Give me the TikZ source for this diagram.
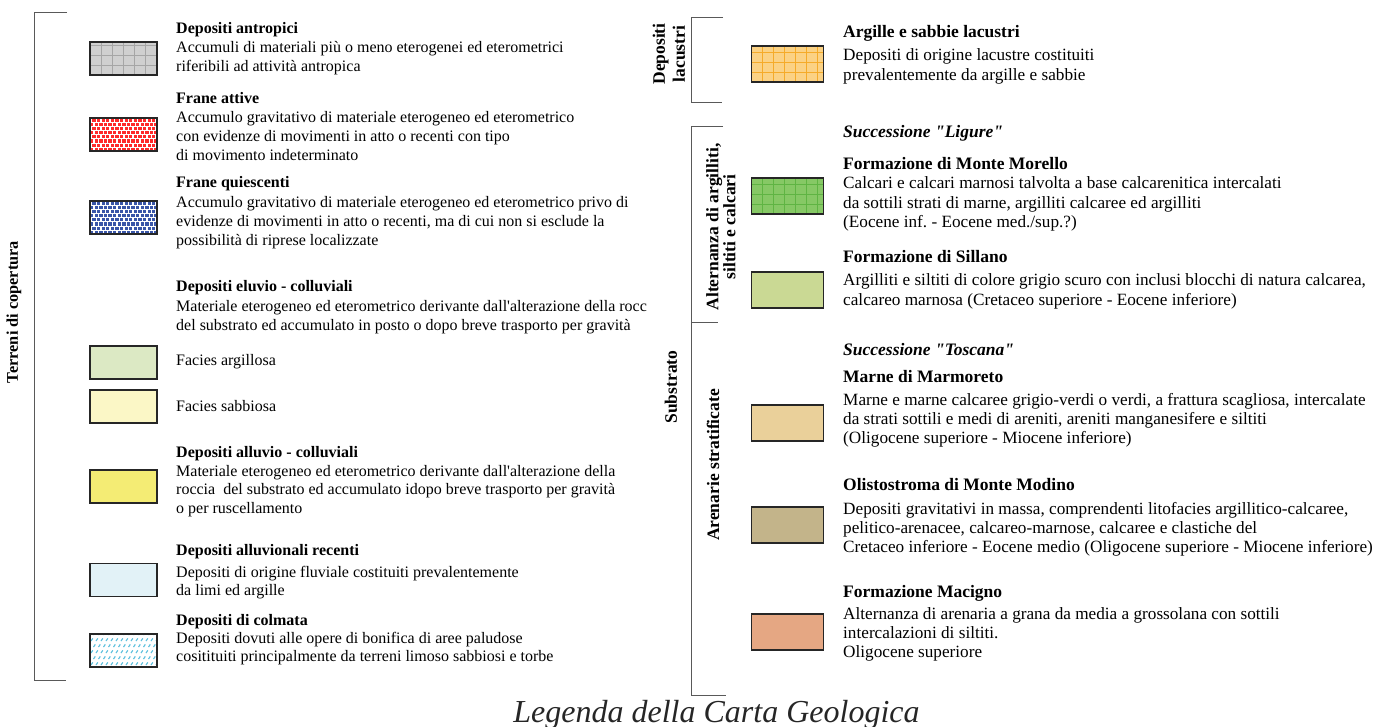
\documentclass[tikz,border=0pt]{standalone}
\usepackage{fontspec}
\setmainfont{Liberation Serif}
\usepackage{tikz}
\usetikzlibrary{calc}

\definecolor{antro}{HTML}{D0D0D0}
\definecolor{antrogrid}{HTML}{A6A6A6}
\definecolor{franered}{HTML}{FF2A2A}
\definecolor{franeblue}{HTML}{3A56A8}
\definecolor{argillosa}{HTML}{DCE9C4}
\definecolor{sabbiosa}{HTML}{FBF7C6}
\definecolor{alluvio}{HTML}{F4EC74}
\definecolor{recenti}{HTML}{E2F2F7}
\definecolor{colmata}{HTML}{5BC0DE}
\definecolor{lacustri}{HTML}{FBD285}
\definecolor{lacustrigrid}{HTML}{F5AB2A}
\definecolor{morello}{HTML}{86C865}
\definecolor{morellogrid}{HTML}{5FB443}
\definecolor{sillano}{HTML}{CAD994}
\definecolor{marmoreto}{HTML}{EAD09A}
\definecolor{modino}{HTML}{C3B48A}
\definecolor{macigno}{HTML}{E5A783}

\begin{document}
\begin{tikzpicture}[x=1pt,y=-1pt,
	swatch/.style={draw=black!85,line width=1.1pt,minimum width=67pt,minimum height=33pt,inner sep=0pt},
	bigswatch/.style={swatch,minimum width=72pt,minimum height=36pt},
	title/.style={anchor=base west,inner sep=0pt,font=\fontsize{16}{19}\selectfont\bfseries},
	descr/.style={anchor=base west,inner sep=0pt,text width=560pt,align=flush left,font=\fontsize{16}{18.8}\selectfont\frenchspacing},
	rtitle/.style={title,font=\fontsize{17.5}{19}\selectfont\bfseries},
	rdescr/.style={descr,font=\fontsize{17.2}{19.3}\selectfont\frenchspacing},
	group/.style={rotate=90,inner sep=0pt,align=center,font=\fontsize{17.5}{20}\selectfont\bfseries},
	bracket/.style={draw=black!65,line width=1pt},
	gridded/.style={path picture={
		\foreach \k in {1,...,6}\draw[#1,line width=0.9pt]([xshift=\k*11pt]path picture bounding box.south west)--([xshift=\k*11pt]path picture bounding box.north west);
		\foreach \k in {1,...,3}\draw[#1,line width=0.9pt]([yshift=\k*10pt]path picture bounding box.south west)--([yshift=\k*10pt]path picture bounding box.south east);}},
	speckled/.style={path picture={
		\foreach \i in {0,...,15}\foreach \j in {0,...,8}
			\fill[#1]([xshift={\i*4.6pt+mod(\j,2)*2.3pt},yshift=\j*4.2pt]path picture bounding box.south west)rectangle++(3.3pt,3.1pt);}},
	dashy/.style={path picture={
		\foreach \i in {0,...,13}\foreach \j in {0,...,5}
			\draw[#1,line width=1.1pt]([xshift={\i*5pt+mod(\j,2)*2.5pt+1pt},yshift=\j*6pt+2pt]path picture bounding box.south west)--++(1.8pt,2.6pt);}}]
			\useasboundingbox(0,0)rectangle(1376,727);
			\draw[bracket](67,13)--(34,13)--(34,680)--(66,680);
			\draw[bracket](723,18)--(691,18)--(691,103)--(722,103);
			\draw[bracket](723,127)--(691,127)--(691,695)--(726,695);
			\draw[bracket](691,323)--(718,323);
			\node[group,font=\fontsize{16.3}{19}\selectfont\bfseries](copertura)at(14,312){Terreni di copertura};
			\node[group](lacu)at(669,54){Depositi\\lacustri};
			\node[group](substrato)at(671,387){Substrato};
			\node[group,font=\fontsize{17.5}{17}\selectfont\bfseries](alternanza)at(721,227){Alternanza di argilliti,\\siltiti e calcari};
			\node[group](arenarie)at(713,465){Arenarie stratificate};
			\node[swatch,fill=antro,gridded=antrogrid](antropici)at(123.5,58.5){};
			\node[swatch,fill=white,speckled=franered](attive)at(123.5,134.5){};
			\node[swatch,fill=white,speckled=franeblue](quiescenti)at(123.5,217.5){};
			\node[swatch,fill=argillosa](argillosa)at(123.5,362.5){};
			\node[swatch,fill=sabbiosa](sabbiosa)at(123.5,406.5){};
			\node[swatch,fill=alluvio](alluvio)at(123.5,486.5){};
			\node[swatch,fill=recenti](recenti)at(123.5,580){};
			\node[swatch,fill=white,dashy=colmata](colmata)at(123.5,650.5){};
			\node[bigswatch,fill=lacustri,gridded=lacustrigrid](argille)at(787.5,64){};
			\node[bigswatch,fill=morello,gridded=morellogrid](morello)at(787.5,196){};
			\node[bigswatch,fill=sillano](sillano)at(787.5,290){};
			\node[bigswatch,fill=marmoreto](marmoreto)at(787.5,423){};
			\node[bigswatch,fill=modino](modino)at(787.5,525){};
			\node[bigswatch,fill=macigno](macigno)at(787.5,632){};
			\node[title](antropiciT)at(176,34){Depositi antropici};
			\node[descr](antropiciD)at(176,53){Accumuli di materiali più o meno eterogenei ed eterometrici\\riferibili ad attività antropica};
			\node[title](attiveT)at(176,104){Frane attive};
			\node[descr](attiveD)at(176,123){Accumulo gravitativo di materiale eterogeneo ed eterometrico\\con evidenze di movimenti in atto o recenti con tipo\\di movimento indeterminato};
			\node[title](quiescentiT)at(176,188){Frane quiescenti};
			\node[descr](quiescentiD)at(176,208){Accumulo gravitativo di materiale eterogeneo ed eterometrico privo di\\evidenze di movimenti in atto o recenti, ma di cui non si esclude la\\possibilità di riprese localizzate};
			\node[title](eluvioT)at(176,292){Depositi eluvio - colluviali};
			\node[descr](eluvioD)at(176,312){Materiale eterogeneo ed eterometrico derivante dall\textquotesingle alterazione della rocc\\del substrato ed accumulato in posto o dopo breve trasporto per gravità};
			\node[descr](argillosaT)at(176,365){Facies argillosa};
			\node[descr](sabbiosaT)at(176,411){Facies sabbiosa};
			\node[title](alluvioT)at(176,457){Depositi alluvio - colluviali};
			\node[descr](alluvioD)at(176,476){Materiale eterogeneo ed eterometrico derivante dall\textquotesingle alterazione della\\roccia\ \ del substrato ed accumulato idopo breve trasporto per gravità\\o per ruscellamento};
			\node[title](recentiT)at(176,555){Depositi alluvionali recenti};
			\node[descr](recentiD)at(176,577){Depositi di origine fluviale costituiti prevalentemente\\da limi ed argille};
			\node[title](colmataT)at(176,625){Depositi di colmata};
			\node[descr](colmataD)at(176,643){Depositi dovuti alle opere di bonifica di aree paludose\\cositituiti principalmente da terreni limoso sabbiosi e torbe};
			\node[rtitle](argilleT)at(843,38){Argille e sabbie lacustri};
			\node[rdescr](argilleD)at(843,61){Depositi di origine lacustre costituiti\\prevalentemente da argille e sabbie};
			\node[rtitle,font=\fontsize{17.5}{19}\selectfont\bfseries\itshape](ligure)at(843,138){Successione \textquotedbl Ligure\textquotedbl};
			\node[rtitle](morelloT)at(843,170){Formazione di Monte Morello};
			\node[rdescr](morelloD)at(843,189){Calcari e calcari marnosi talvolta a base calcarenitica intercalati\\da sottili strati di marne, argilliti calcaree ed argilliti\\(Eocene inf. - Eocene med./sup.?)};
			\node[rtitle](sillanoT)at(843,263){Formazione di Sillano};
			\node[rdescr](sillanoD)at(843,286){Argilliti e siltiti di colore grigio scuro con inclusi blocchi di natura calcarea,\\calcareo marnosa (Cretaceo superiore - Eocene inferiore)};
			\node[rtitle,font=\fontsize{17.5}{19}\selectfont\bfseries\itshape](toscana)at(843,355){Successione \textquotedbl Toscana\textquotedbl};
			\node[rtitle](marmoretoT)at(843,382){Marne di Marmoreto};
			\node[rdescr](marmoretoD)at(843,405){Marne e marne calcaree grigio-verdi o verdi, a frattura scagliosa, intercalate\\da strati sottili e medi di areniti, areniti manganesifere e siltiti\\(Oligocene superiore - Miocene inferiore)};
			\node[rtitle](modinoT)at(843,490){Olistostroma di Monte Modino};
			\node[rdescr](modinoD)at(843,514){Depositi gravitativi in massa, comprendenti litofacies argillitico-calcaree,\\pelitico-arenacee, calcareo-marnose, calcaree e clastiche del\\Cretaceo inferiore - Eocene medio (Oligocene superiore - Miocene inferiore)};
			\node[rtitle](macignoT)at(843,597){Formazione Macigno};
			\node[rdescr](macignoD)at(843,619){Alternanza di arenaria a grana da media a grossolana con sottili\\intercalazioni di siltiti.\\Oligocene superiore};
			\node[anchor=base,inner sep=0pt,font=\fontsize{32}{36}\selectfont\itshape,text=black!85](legenda)at(716.5,722){Legenda della Carta Geologica};
		\end{tikzpicture}
\end{document}
